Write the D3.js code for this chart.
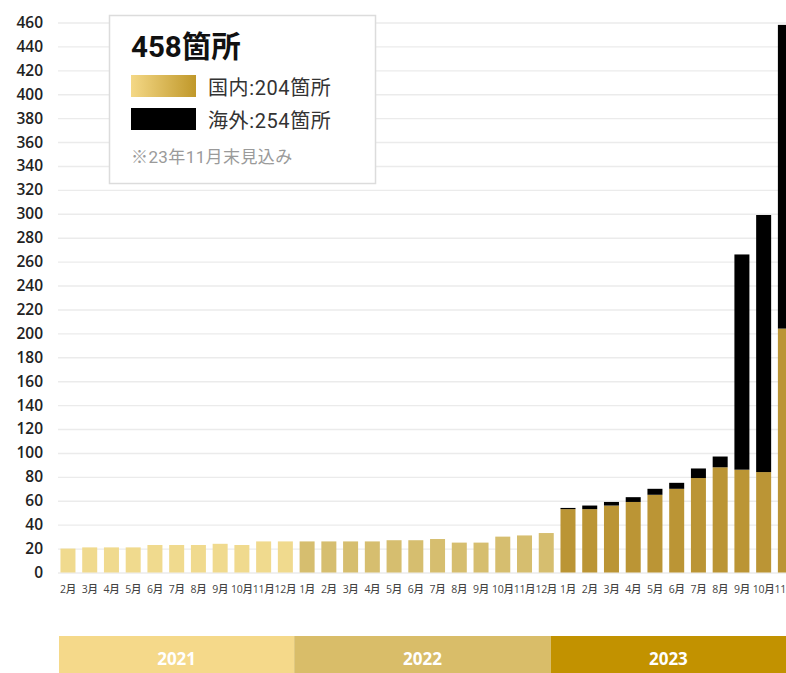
<!DOCTYPE html>
<html lang="ja">
<head>
<meta charset="utf-8">
<script src="https://cdn.jsdelivr.net/npm/d3@7"></script>
<style>
  html, body { margin: 0; padding: 0; background: #fff; overflow: hidden; }
  svg { display: block; }
  .num { font-family: "Open Sans", "Noto Sans CJK JP", sans-serif; }
  .jp { font-family: Roboto, "Noto Sans CJK JP", sans-serif; }
</style>
</head>
<body>
<svg id="chart" width="786" height="673"></svg>
<script>
// Monthly store counts, Feb 2021 – Nov 2023
const monthLabels = [
  '2月','3月','4月','5月','6月','7月','8月','9月','10月','11月','12月',
  '1月','2月','3月','4月','5月','6月','7月','8月','9月','10月','11月','12月',
  '1月','2月','3月','4月','5月','6月','7月','8月','9月','10月','11月'
];
const years = ['2021', '2022', '2023'];
const monthsPerYear = [11, 12, 11];

const domestic = [
  20, 21, 21, 21, 23, 23, 23, 24, 23, 26, 26,
  26, 26, 26, 26, 27, 27, 28, 25, 25, 30, 31, 33,
  53, 53, 56, 59, 65, 70, 79, 88, 86, 84, 204
];
const overseas = [
  0, 0, 0, 0, 0, 0, 0, 0, 0, 0, 0,
  0, 0, 0, 0, 0, 0, 0, 0, 0, 0, 0, 0,
  1, 3, 3, 4, 5, 5, 8, 9, 180, 215, 254
];
const yTicks = d3.range(0, 461, 20);

const totalLabel = '458箇所';
const domesticLabel = '国内:204箇所';
const overseasLabel = '海外:254箇所';
const noteLabel = '※23年11月末見込み';

const W = 786, H = 673;
const barColors = ['#f0da8e', '#d6be6f', '#bb9535'];
const bandColors = ['#f5d98a', '#d9bd69', '#c29200'];

const svg = d3.select('#chart');

// year index for each month
const yearIdx = [];
monthsPerYear.forEach((n, i) => { for (let k = 0; k < n; k++) yearIdx.push(i); });

const idx = d3.range(monthLabels.length);
const step = 21.74;
const x = d3.scaleBand()
  .domain(idx)
  .range([57.1, 57.1 + step * idx.length])
  .paddingInner(0.31)
  .paddingOuter(0.155);

const y = d3.scaleLinear().domain([0, 460]).range([572.5, 22.5]);

// gridlines + y labels
const yAxis = d3.axisLeft(y)
  .tickValues(yTicks)
  .tickSize(-(W - 58))
  .tickPadding(15)
  .tickFormat(d3.format('d'));

const gy = svg.append('g')
  .attr('transform', 'translate(58,0)')
  .call(yAxis);
gy.select('.domain').remove();
gy.selectAll('.tick line').attr('stroke', '#ebebeb').attr('stroke-width', 1.4);
gy.selectAll('.tick text')
  .attr('class', 'num')
  .attr('fill', '#222')
  .style('font-size', '15.5px')
  .style('font-weight', 600);

// bars
const bars = svg.append('g');
bars.selectAll('rect.dom')
  .data(idx)
  .join('rect')
  .attr('class', 'dom')
  .attr('x', i => x(i))
  .attr('width', x.bandwidth())
  .attr('y', i => y(domestic[i]))
  .attr('height', i => y(0) - y(domestic[i]))
  .attr('fill', i => barColors[yearIdx[i]]);

bars.selectAll('rect.ovs')
  .data(idx.filter(i => overseas[i] > 0))
  .join('rect')
  .attr('class', 'ovs')
  .attr('x', i => x(i))
  .attr('width', x.bandwidth())
  .attr('y', i => y(domestic[i] + overseas[i]))
  .attr('height', i => y(domestic[i]) - y(domestic[i] + overseas[i]))
  .attr('fill', '#000');

// month labels
const xAxis = d3.axisBottom(x)
  .tickSize(0)
  .tickPadding(13)
  .tickFormat(i => monthLabels[i]);
const gx = svg.append('g')
  .attr('transform', `translate(0,${y(0)})`)
  .call(xAxis);
gx.select('.domain').remove();
gx.selectAll('.tick text')
  .attr('class', 'num')
  .attr('fill', '#444')
  .style('font-size', '10.5px')
  .style('letter-spacing', '-0.3px')
  .style('font-weight', 500);

// year bands
const bx = d3.scaleLinear().domain([0, idx.length]).range([59, W]);
const starts = d3.cumsum([0, ...monthsPerYear]);
const bandG = svg.append('g');
years.forEach((yr, i) => {
  const x0 = bx(starts[i]);
  const x1 = i === years.length - 1 ? W : bx(starts[i + 1]);
  bandG.append('rect')
    .attr('x', x0).attr('y', 636)
    .attr('width', x1 - x0).attr('height', H - 636)
    .attr('fill', bandColors[i]);
  bandG.append('text')
    .attr('class', 'num')
    .attr('x', (x0 + x1) / 2).attr('y', 658)
    .attr('text-anchor', 'middle')
    .attr('dominant-baseline', 'central')
    .attr('fill', '#fff')
    .style('font-size', '17px')
    .style('font-weight', 700)
    .text(yr);
});

// legend box
const defs = svg.append('defs');
const grad = defs.append('linearGradient').attr('id', 'goldGrad')
  .attr('x1', '0%').attr('x2', '100%').attr('y1', '0%').attr('y2', '0%');
grad.append('stop').attr('offset', '0%').attr('stop-color', '#f4d886');
grad.append('stop').attr('offset', '100%').attr('stop-color', '#c0982a');

const lg = svg.append('g');
lg.append('rect')
  .attr('x', 109.5).attr('y', 15.5)
  .attr('width', 266).attr('height', 168)
  .attr('fill', '#fff')
  .attr('stroke', '#dcdcdc')
  .attr('stroke-width', 1.5);

lg.append('text')
  .attr('class', 'jp')
  .attr('x', 131).attr('y', 56.5)
  .attr('fill', '#111')
  .style('font-size', '29.5px')
  .style('font-weight', 700)
  .text(totalLabel);

lg.append('rect').attr('x', 131).attr('y', 75).attr('width', 65).attr('height', 22)
  .attr('fill', 'url(#goldGrad)');
lg.append('rect').attr('x', 131).attr('y', 108).attr('width', 65).attr('height', 22)
  .attr('fill', '#000');

lg.append('text').attr('class', 'jp')
  .attr('x', 208).attr('y', 95)
  .attr('fill', '#333')
  .style('font-size', '20px')
  .style('letter-spacing', '0.6px')
  .text(domesticLabel);
lg.append('text').attr('class', 'jp')
  .attr('x', 208).attr('y', 128)
  .attr('fill', '#333')
  .style('font-size', '20px')
  .style('letter-spacing', '0.6px')
  .text(overseasLabel);

lg.append('text').attr('class', 'jp')
  .attr('x', 131).attr('y', 162.5)
  .attr('fill', '#9a9a9a')
  .style('font-size', '17px')
  .style('letter-spacing', '0.4px')
  .text(noteLabel);
</script>
</body>
</html>
